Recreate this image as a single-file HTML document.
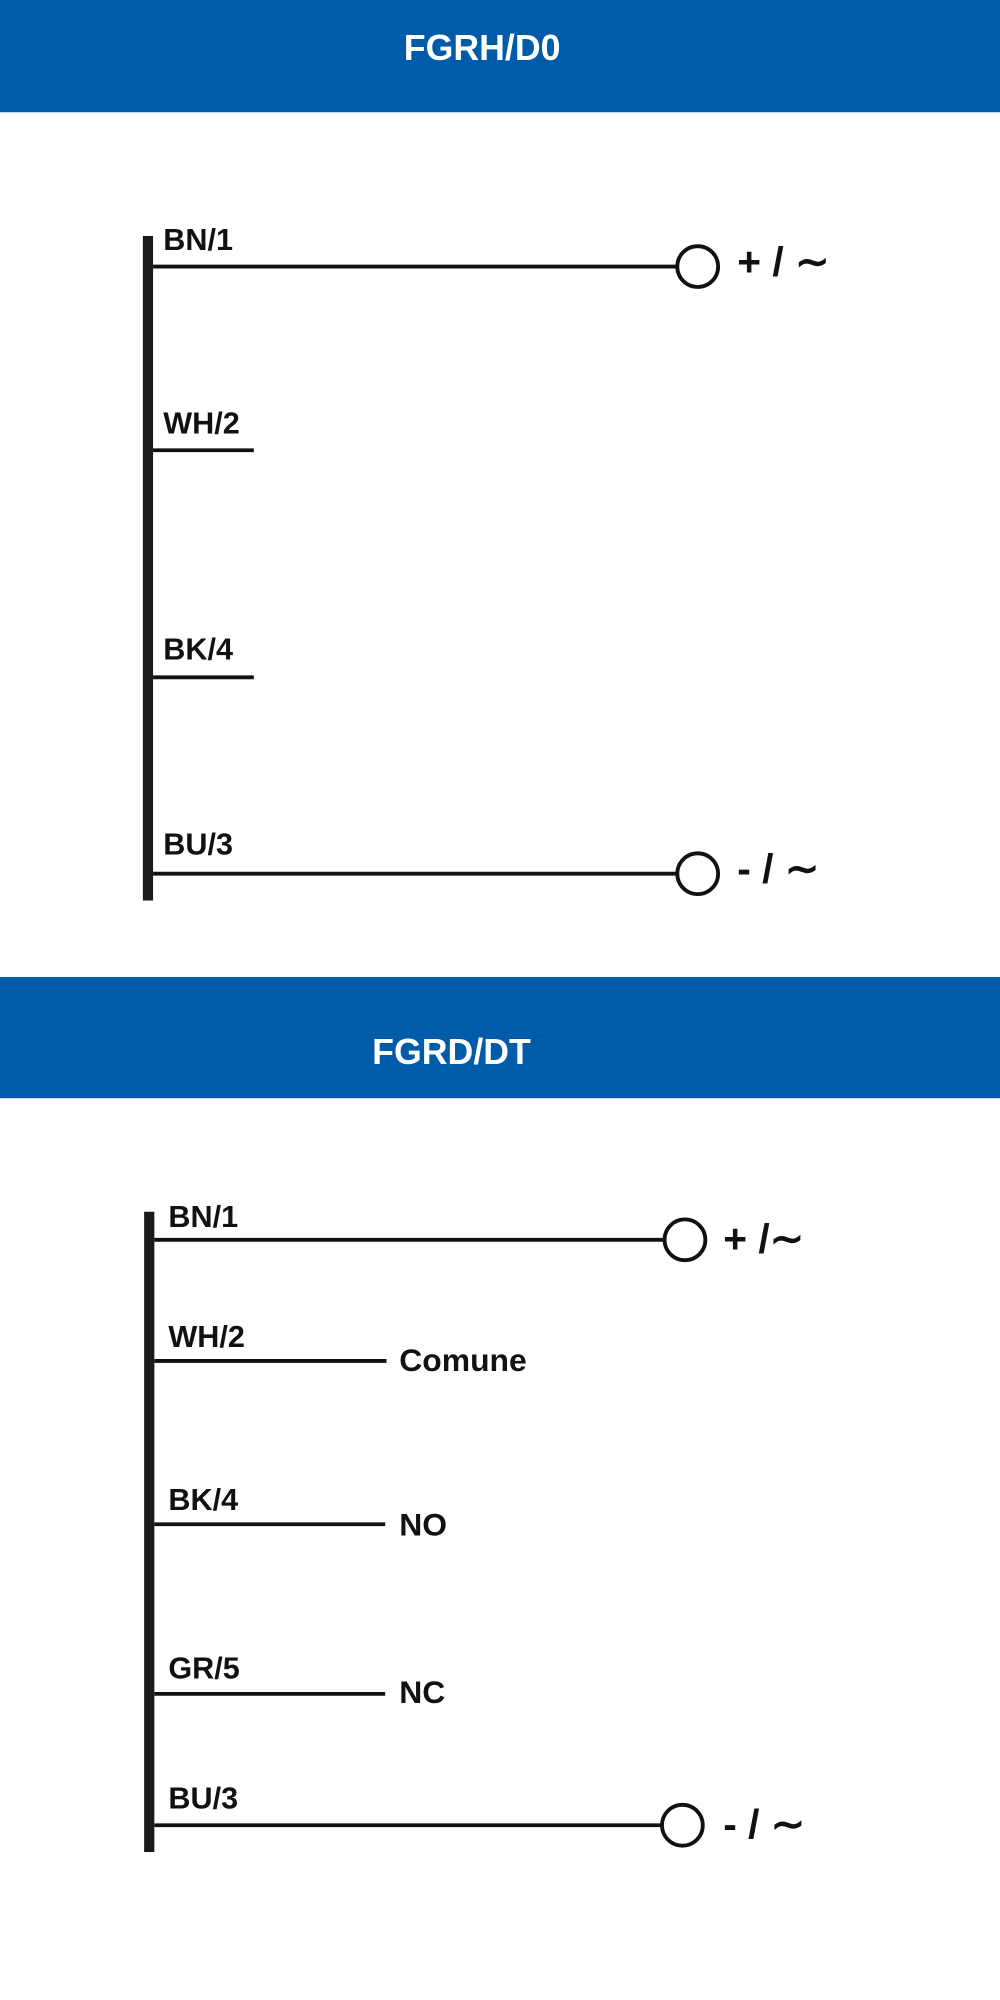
<!DOCTYPE html>
<html><head><meta charset="utf-8"><style>
html,body{margin:0;padding:0;background:#fff;}
svg{display:block}
text{font-family:"Liberation Sans",sans-serif;fill:#111;font-weight:bold;}
</style></head><body>
<svg width="1000" height="2000" viewBox="0 0 784 1568" xmlns="http://www.w3.org/2000/svg">
<rect width="784" height="1568" fill="#fff"/>
<rect x="0" y="0" width="784" height="88" fill="#005ca9"/>
<text x="378" y="47" font-size="28" text-anchor="middle" style="fill:#fff">FGRH/D0</text>
<rect x="112" y="185" width="8" height="521" fill="#1a1a1a"/>
<g stroke="#111" stroke-width="3" fill="none">
<line x1="120" y1="209" x2="531" y2="209"/>
<circle cx="547" cy="209" r="16"/>
<line x1="120" y1="353" x2="199" y2="353"/>
<line x1="120" y1="531" x2="199" y2="531"/>
<line x1="120" y1="685" x2="531" y2="685"/>
<circle cx="547" cy="685" r="16"/>
</g>
<g font-size="24">
<text x="128" y="196">BN/1</text>
<text x="128" y="340">WH/2</text>
<text x="128" y="517">BK/4</text>
<text x="128" y="670">BU/3</text>
</g>
<text x="578" y="216" font-size="32">+ / ∼</text>
<text x="578" y="692" font-size="32">- / ∼</text>

<rect x="0" y="766" width="784" height="95" fill="#005ca9"/>
<text x="354" y="834" font-size="28" text-anchor="middle" style="fill:#fff">FGRD/DT</text>
<rect x="113" y="950" width="8" height="502" fill="#1a1a1a"/>
<g stroke="#111" stroke-width="3" fill="none">
<line x1="121" y1="972" x2="522" y2="972"/>
<circle cx="537" cy="972" r="16"/>
<line x1="121" y1="1067" x2="303" y2="1067"/>
<line x1="121" y1="1195" x2="302" y2="1195"/>
<line x1="121" y1="1328" x2="302" y2="1328"/>
<line x1="121" y1="1431" x2="519" y2="1431"/>
<circle cx="535" cy="1431" r="16"/>
</g>
<g font-size="24">
<text x="132" y="962">BN/1</text>
<text x="132" y="1056">WH/2</text>
<text x="132" y="1184">BK/4</text>
<text x="132" y="1316">GR/5</text>
<text x="132" y="1418">BU/3</text>
<text x="313" y="1075" font-size="25">Comune</text>
<text x="313" y="1204" font-size="25">NO</text>
<text x="313" y="1335" font-size="25">NC</text>
</g>
<text x="567" y="982" font-size="32">+ /∼</text>
<text x="567" y="1441" font-size="32">- / ∼</text>
</svg>
</body></html>
